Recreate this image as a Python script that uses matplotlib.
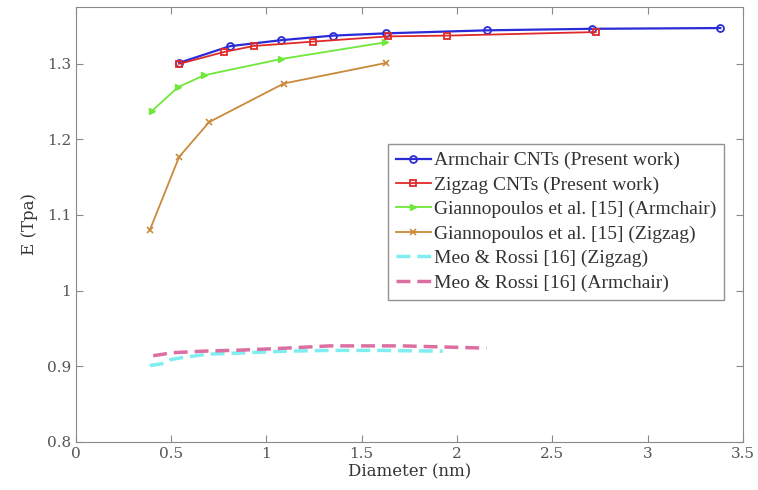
import matplotlib
matplotlib.use("Agg")
import matplotlib.pyplot as plt
from matplotlib.ticker import FormatStrFormatter

# armchair CNTs (present work)
arm_d = [0.542, 0.808, 1.079, 1.350, 1.626, 2.160, 2.706, 3.382]
arm_e = [1.301, 1.323, 1.331, 1.337, 1.340, 1.344, 1.346, 1.347]

# zigzag CNTs (present work)
zig_d = [0.542, 0.778, 0.934, 1.242, 1.639, 1.946, 2.728]
zig_e = [1.2996, 1.3154, 1.3233, 1.329, 1.336, 1.337, 1.3417]

# Giannopoulos et al. [15]
gia_arm_d = [0.402, 0.537, 0.673, 1.076, 1.621]
gia_arm_e = [1.238, 1.269, 1.2846, 1.306, 1.328]
gia_zig_d = [0.388, 0.542, 0.700, 1.091, 1.630]
gia_zig_e = [1.0797, 1.1767, 1.2228, 1.2737, 1.301]

# Meo & Rossi [16]
meo_zig_d = [0.388, 0.467, 0.50, 0.546, 0.633, 0.687, 0.90, 1.10, 1.33, 1.60, 1.925]
meo_zig_e = [0.901, 0.904, 0.909, 0.911, 0.914, 0.916, 0.918, 0.920, 0.921, 0.921, 0.920]
meo_arm_d = [0.406, 0.51, 0.668, 0.878, 1.10, 1.333, 1.716, 2.155]
meo_arm_e = [0.914, 0.918, 0.920, 0.9215, 0.924, 0.927, 0.927, 0.924]

fig = plt.figure(figsize=(7.58, 4.90), dpi=100)
ax = fig.add_axes([0.100, 0.098, 0.880, 0.888])

ax.plot(arm_d, arm_e, '-o', color='#2b2bd8', lw=1.6, ms=5, mfc='none', mew=1.3,
        label='Armchair CNTs (Present work)')
ax.plot(zig_d, zig_e, '-s', color='#e02a2a', lw=1.3, ms=5, mfc='none', mew=1.3,
        label='Zigzag CNTs (Present work)')
ax.plot(gia_arm_d, gia_arm_e, '->', color='#6ee83a', lw=1.3, ms=5,
        label='Giannopoulos et al. [15] (Armchair)')
ax.plot(gia_zig_d, gia_zig_e, '-x', color='#c98a3c', lw=1.3, ms=5, mew=1.2,
        label='Giannopoulos et al. [15] (Zigzag)')
ax.plot(meo_zig_d, meo_zig_e, '--', color='#7eeef0', lw=2.5, dashes=(4, 2),
        label='Meo & Rossi [16] (Zigzag)')
ax.plot(meo_arm_d, meo_arm_e, '--', color='#dc6fa2', lw=2.5, dashes=(4, 2),
        label='Meo & Rossi [16] (Armchair)')

ax.set_xlim(0, 3.5)
ax.set_ylim(0.8, 1.375)
ax.set_xticks([0, 0.5, 1, 1.5, 2, 2.5, 3, 3.5])
ax.set_yticks([0.8, 0.9, 1.0, 1.1, 1.2, 1.3])
ax.xaxis.set_major_formatter(FormatStrFormatter('%g'))
ax.yaxis.set_major_formatter(FormatStrFormatter('%g'))

for s in ax.spines.values():
    s.set_color('#8a8a8a')
ax.tick_params(direction='in', length=5, color='#8a8a8a', labelcolor='#555555',
               top=True, right=True, labelsize=12)
for lab in ax.get_xticklabels() + ax.get_yticklabels():
    lab.set_family('DejaVu Serif')
    lab.set_fontsize(11)

ax.set_xlabel('Diameter (nm)', family='DejaVu Serif', fontsize=12, color='#333333', labelpad=2)
ax.set_ylabel('E (Tpa)', family='DejaVu Serif', fontsize=12, color='#333333', labelpad=6)

leg = ax.legend(loc='upper left', bbox_to_anchor=(0.468, 0.685), frameon=True, fancybox=False,
                prop={'family': 'Liberation Serif', 'size': 14}, handlelength=1.8,
                handletextpad=0.15, borderpad=0.4, labelspacing=0.35, borderaxespad=0)
leg.get_frame().set_edgecolor('#777777')
leg.get_frame().set_linewidth(1.0)
for t in leg.get_texts():
    t.set_color('#333333')

fig.savefig('out.png', dpi=100)
